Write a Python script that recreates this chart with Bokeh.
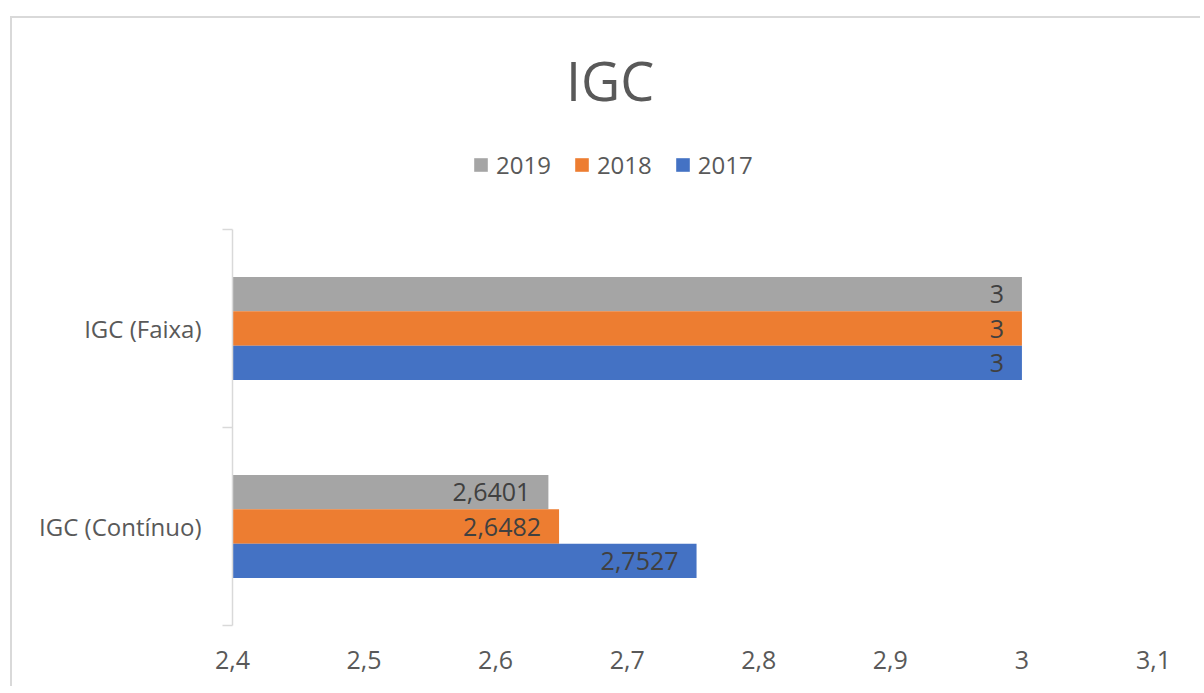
from bokeh.plotting import figure
from bokeh.models import (ColumnDataSource, Range1d, FixedTicker, LabelSet, Label,
                          Legend, LegendItem)
from bokeh.core.properties import value
from bokeh.embed import file_html
from bokeh.resources import INLINE

# ---------------- data ----------------
chart_title = "IGC"
categories = ["IGC (Contínuo)", "IGC (Faixa)"]          # bottom -> top
series_names = ["2019", "2018", "2017"]
values_2019 = [2.6401, 3]
values_2018 = [2.6482, 3]
values_2017 = [2.7527, 3]
series_values = [values_2019, values_2018, values_2017]
series_colors = ["#A5A5A5", "#ED7D31", "#4472C4"]
x_ticks = [2.4, 2.5, 2.6, 2.7, 2.8, 2.9, 3.0, 3.1]

FONT = "Open Sans"
TEXT = "#595959"


def fmt(v):
    return f"{v:g}".replace(".", ",")


W, H = 1190, 670
FRAME_BOTTOM = 607          # px from top of figure
CAT_PX = 198                # px per category band
n = len(categories)
y_top = FRAME_BOTTOM / CAT_PX  # extend range so title/legend live in the frame

p = figure(width=W, height=H, output_backend="svg", toolbar_location=None,
           title=None,
           x_range=Range1d(2.4, 3.1), y_range=Range1d(0, y_top),
           min_border_left=220, min_border_right=49,
           min_border_top=0, min_border_bottom=H - FRAME_BOTTOM)
p.xgrid.visible = False
p.ygrid.visible = False
p.outline_line_color = None
p.background_fill_color = "white"
p.border_fill_color = "white"
p.margin = (16, 0, 0, 10)
p.styles = {"border-top": "2px solid #D9D9D9", "border-left": "2px solid #D9D9D9"}

# bars
bar_h = 0.173
offsets = [bar_h, 0.0, -bar_h]
legend_items = []
for name, vals, col, off in zip(series_names, series_values, series_colors, offsets):
    ys = [i + 0.5 + off for i in range(n)]
    src = ColumnDataSource(dict(y=ys, right=vals, text=[fmt(v) for v in vals]))
    r = p.hbar(y="y", right="right", left=2.4, height=bar_h, source=src,
               fill_color=col, line_color=None)
    legend_items.append(LegendItem(label=name, renderers=[r]))
    p.add_layout(LabelSet(x="right", y="y", text="text", source=src,
                          text_align="right", text_baseline="middle",
                          x_offset=-18, y_offset=0,
                          text_font=value(FONT), text_font_size="25px",
                          text_color="#404040"))

# x axis
xa = p.xaxis[0]
xa.ticker = FixedTicker(ticks=x_ticks)
xa.major_label_overrides = {t: fmt(t) for t in x_ticks}
xa.axis_line_color = None
xa.major_tick_line_color = None
xa.minor_tick_line_color = None
xa.major_label_standoff = 19
xa.major_label_text_font = FONT
xa.major_label_text_font_size = "25px"
xa.major_label_text_color = TEXT

# y axis
ya = p.yaxis[0]
cat_pos = [i + 0.5 for i in range(n)]
ya.bounds = (0, n)
ya.ticker = FixedTicker(ticks=cat_pos, minor_ticks=[float(i) for i in range(n + 1)])
ya.major_label_overrides = {pos: c for pos, c in zip(cat_pos, categories)}
ya.axis_line_color = "#D9D9D9"
ya.axis_line_width = 1.5
ya.major_tick_line_color = None
ya.minor_tick_line_color = "#D9D9D9"
ya.minor_tick_line_width = 1.5
ya.minor_tick_in = 0
ya.minor_tick_out = 10
ya.major_label_standoff = 21
ya.major_label_text_font = FONT
ya.major_label_text_font_size = "24px"
ya.major_label_text_color = TEXT

# title
p.add_layout(Label(x=2.687, y=2.757, text=chart_title, text_align="center",
                   text_baseline="alphabetic", text_font=FONT,
                   text_font_size="54px", text_color=TEXT))

# legend
legend = Legend(items=legend_items, orientation="horizontal", location=(240, 444),
                border_line_color=None, background_fill_alpha=0,
                padding=0, margin=0, spacing=22, label_standoff=7,
                glyph_width=17, glyph_height=17,
                label_text_font=FONT, label_text_font_size="24px",
                label_text_color=TEXT)
p.add_layout(legend, "center")

open("out.html", "w").write(file_html(p, INLINE))
